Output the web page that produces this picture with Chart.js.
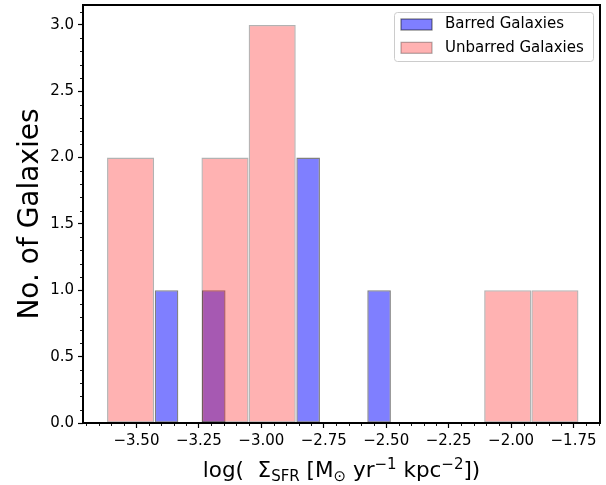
<!DOCTYPE html>
<html><head><meta charset="utf-8">
<script src="https://cdn.jsdelivr.net/npm/chart.js@4/dist/chart.umd.min.js"></script>
<style>html,body{margin:0;padding:0;background:#fff;}#wrap{position:relative;width:606px;height:485px;}</style>
</head><body><div id="wrap"><canvas id="c" width="606" height="485"></canvas></div>
<script>
// ---- data ----
const barredEdges = [-3.427, -3.332, -3.238, -3.143, -3.049, -2.954, -2.860, -2.765, -2.670, -2.576, -2.481];
const barredCounts = [1, 0, 1, 0, 0, 0, 2, 0, 0, 1];
const unbarredEdges = [-3.618, -3.429, -3.240, -3.051, -2.862, -2.674, -2.485, -2.296, -2.108, -1.919, -1.730];
const unbarredCounts = [2, 0, 2, 3, 0, 0, 0, 0, 1, 1];
const seriesLabels = ['Barred Galaxies', 'Unbarred Galaxies'];
const xTickValues = [-3.5, -3.25, -3.0, -2.75, -2.5, -2.25, -2.0, -1.75];
const xTickLabels = ['\u22123.50', '\u22123.25', '\u22123.00', '\u22122.75', '\u22122.50', '\u22122.25', '\u22122.00', '\u22121.75'];
const yTickValues = [0, 0.5, 1.0, 1.5, 2.0, 2.5, 3.0];
const yTickLabels = ['0.0', '0.5', '1.0', '1.5', '2.0', '2.5', '3.0'];
const xLimits = [-3.714, -1.644];
const yLimits = [0, 3.15];
const yTitle = 'No. of Galaxies';

const centers = e => e.slice(0, -1).map((v, i) => (v + e[i + 1]) / 2);
const toPoints = (e, c) => centers(e).map((x, i) => ({x: x, y: c[i]}));

const FONT = 'DejaVu Sans';
const colors = {
  barredBg: 'rgba(0,0,255,0.5)', barredEdge: 'rgba(0,0,0,0.5)',
  unbarredBg: 'rgba(255,0,0,0.3)', unbarredEdge: 'rgba(0,0,0,0.3)'
};

const noPad = s => { s.paddingTop = 0; s.paddingBottom = 0; s.paddingLeft = 0; s.paddingRight = 0; };

const decor = {
  id: 'decor',
  afterDatasetsDraw(chart) {
    const ctx = chart.ctx, a = chart.chartArea;
    const xs = chart.scales.x, ys = chart.scales.y;
    ctx.save();
    // minor ticks
    ctx.strokeStyle = '#000'; ctx.lineWidth = 0.9;
    ctx.beginPath();
    for (let k = -74; k <= -33; k++) {
      const v = k * 0.05;
      if (Math.abs(v * 4 - Math.round(v * 4)) < 1e-6) continue;
      if (v < xLimits[0] || v > xLimits[1]) continue;
      const px = Math.round(xs.getPixelForValue(v)) + 0.5;
      ctx.moveTo(px, a.bottom); ctx.lineTo(px, a.bottom + 3);
    }
    for (let k = 0; k <= 31; k++) {
      const v = k * 0.1;
      if (Math.abs(v * 2 - Math.round(v * 2)) < 1e-6) continue;
      const py = Math.round(ys.getPixelForValue(v)) + 0.5;
      ctx.moveTo(a.left, py); ctx.lineTo(a.left - 3, py);
    }
    ctx.stroke();
    // frame
    ctx.lineWidth = 2; ctx.strokeStyle = '#000';
    ctx.strokeRect(a.left, a.top, a.right - a.left, a.bottom - a.top);
    // legend
    const lx = 394.5, ly = 12.5, lw = 199, lh = 49, r = 3;
    ctx.beginPath();
    ctx.moveTo(lx + r, ly); ctx.lineTo(lx + lw - r, ly); ctx.quadraticCurveTo(lx + lw, ly, lx + lw, ly + r);
    ctx.lineTo(lx + lw, ly + lh - r); ctx.quadraticCurveTo(lx + lw, ly + lh, lx + lw - r, ly + lh);
    ctx.lineTo(lx + r, ly + lh); ctx.quadraticCurveTo(lx, ly + lh, lx, ly + lh - r);
    ctx.lineTo(lx, ly + r); ctx.quadraticCurveTo(lx, ly, lx + r, ly); ctx.closePath();
    ctx.fillStyle = 'rgba(255,255,255,0.8)'; ctx.fill();
    ctx.strokeStyle = '#cccccc'; ctx.lineWidth = 1; ctx.stroke();
    const ds = chart.data.datasets;
    const rows = [ds[0], ds[1]];
    rows.forEach((d, i) => {
      const y0 = 19 + i * 23.3;
      ctx.fillStyle = d.backgroundColor; ctx.fillRect(401, y0, 31, 11);
      ctx.strokeStyle = d.borderColor; ctx.lineWidth = 1.2; ctx.strokeRect(401, y0, 31, 11);
      ctx.fillStyle = '#000'; ctx.font = '15px "' + FONT + '"';
      ctx.textAlign = 'left'; ctx.textBaseline = 'middle';
      ctx.fillText(d.label, 445, y0 + 5.5);
    });
    // y title
    ctx.save();
    ctx.translate(31, (a.top + a.bottom) / 2);
    ctx.rotate(-Math.PI / 2);
    ctx.font = '28px "' + FONT + '"'; ctx.textAlign = 'center'; ctx.textBaseline = 'middle';
    ctx.fillStyle = '#000';
    ctx.fillText(yTitle, 0, 0);
    ctx.restore();
    // x title with sub/superscripts
    const M = 21.5, S = 15;
    const parts = [
      {t: 'log(  \u03A3', s: M, dy: 0},
      {t: 'SFR', s: S, dy: 4},
      {t: ' [M', s: M, dy: 0},
      {t: '\u2299', s: S, dy: 4},
      {t: ' yr', s: M, dy: 0},
      {t: '\u22121', s: S, dy: -8},
      {t: ' kpc', s: M, dy: 0},
      {t: '\u22122', s: S, dy: -8},
      {t: '])', s: M, dy: 0}
    ];
    let tot = 0;
    parts.forEach(p => { ctx.font = p.s + 'px "' + FONT + '"'; p.w = ctx.measureText(p.t).width; tot += p.w; });
    let cx = (a.left + a.right) / 2 - tot / 2;
    const base = 477;
    ctx.textAlign = 'left'; ctx.textBaseline = 'alphabetic'; ctx.fillStyle = '#000';
    parts.forEach(p => { ctx.font = p.s + 'px "' + FONT + '"'; ctx.fillText(p.t, cx, base + p.dy); cx += p.w; });
    ctx.restore();
  }
};

new Chart(document.getElementById('c'), {
  type: 'bar',
  data: {
    datasets: [
      {label: seriesLabels[0], data: toPoints(barredEdges, barredCounts), xAxisID: 'x2', yAxisID: 'y',
       backgroundColor: colors.barredBg, borderColor: colors.barredEdge, order: 2},
      {label: seriesLabels[1], data: toPoints(unbarredEdges, unbarredCounts), xAxisID: 'x', yAxisID: 'y',
       backgroundColor: colors.unbarredBg, borderColor: colors.unbarredEdge, order: 1}
    ]
  },
  options: {
    responsive: false, animation: false, devicePixelRatio: 1,
    layout: {padding: {top: 5, right: 6, left: 0, bottom: 0}},
    datasets: {bar: {categoryPercentage: 1, barPercentage: 1, grouped: false, borderSkipped: false,
                     inflateAmount: 0, borderWidth: 1.3}},
    plugins: {legend: {display: false}, tooltip: {enabled: false}},
    scales: {
      x: {type: 'linear', position: 'bottom', offset: false, min: xLimits[0], max: xLimits[1],
          afterBuildTicks: s => { s.ticks = xTickValues.map(v => ({value: v})); },
          ticks: {autoSkip: false, maxRotation: 0, color: '#000', padding: 4,
                  font: {family: FONT, size: 15}, callback: (v, i) => xTickLabels[i]},
          grid: {offset: false, drawOnChartArea: false, tickLength: 5, tickColor: '#000', tickWidth: 1.2},
          border: {display: false},
          afterFit: s => { s.height = 62; noPad(s); }},
      x2: {type: 'linear', display: false, offset: false, min: xLimits[0], max: xLimits[1],
           grid: {offset: false},
           afterBuildTicks: s => { s.ticks = xTickValues.map(v => ({value: v})); },
           afterFit: s => { noPad(s); }},
      y: {type: 'linear', position: 'left', min: yLimits[0], max: yLimits[1],
          afterBuildTicks: s => { s.ticks = yTickValues.map(v => ({value: v})); },
          ticks: {autoSkip: false, color: '#000', padding: 4,
                  font: {family: FONT, size: 15}, callback: (v, i) => yTickLabels[i]},
          grid: {drawOnChartArea: false, tickLength: 5, tickColor: '#000', tickWidth: 1.2},
          border: {display: false},
          afterFit: s => { s.width = 83; noPad(s); }}
    }
  },
  plugins: [decor]
});
</script></body></html>
